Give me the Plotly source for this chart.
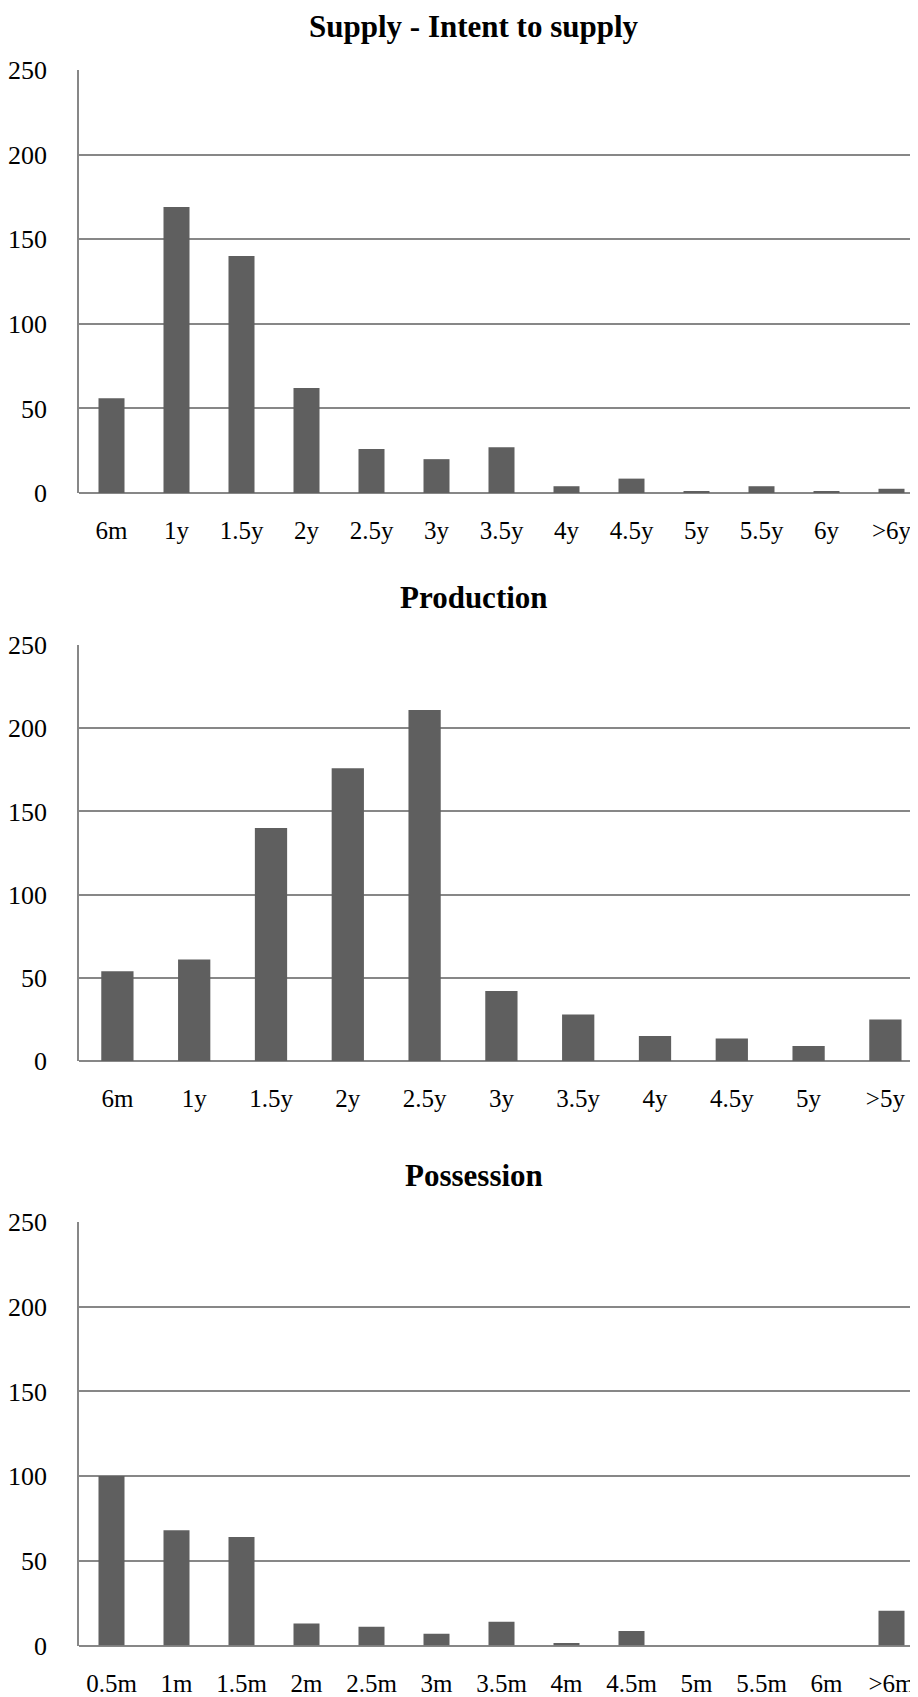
import plotly.graph_objects as go

supply_cats = ["6m", "1y", "1.5y", "2y", "2.5y", "3y", "3.5y", "4y", "4.5y", "5y", "5.5y", "6y", ">6y"]
supply_vals = [56, 169, 140, 62, 26, 20, 27, 4, 8.5, 1, 4, 1, 2.5]

prod_cats = ["6m", "1y", "1.5y", "2y", "2.5y", "3y", "3.5y", "4y", "4.5y", "5y", ">5y"]
prod_vals = [54, 61, 140, 176, 211, 42, 28, 15, 13.5, 9, 25]

poss_cats = ["0.5m", "1m", "1.5m", "2m", "2.5m", "3m", "3.5m", "4m", "4.5m", "5m", "5.5m", "6m", ">6m"]
poss_vals = [100, 68, 64, 13, 11, 7, 14, 1.5, 8.5, 0, 0, 0, 20.5]

titles = ["Supply - Intent to supply", "Production", "Possession"]
y_ticks = [0, 50, 100, 150, 200, 250]

# page body adds an 8px margin, so the figure is 8px smaller in each direction
OFF = 8
W, H = 918 - OFF, 1697 - OFF
BAR = "#5f5f5f"
GRID = "#878787"
FONT = "Liberation Serif"
LEFT = 79 - OFF

# plot area pixel positions on screen (top, bottom) and title centre y
panels = [
    (supply_cats, supply_vals, 70, 493, 26),
    (prod_cats, prod_vals, 645, 1061, 597),
    (poss_cats, poss_vals, 1222, 1645.5, 1175),
]

fig = go.Figure()
for i, (cats, vals, top, bot, ty) in enumerate(panels):
    top, bot, ty = top - OFF, bot - OFF, ty - OFF
    n = "" if i == 0 else str(i + 1)
    fig.add_trace(go.Bar(
        x=list(range(len(cats))), y=vals, marker_color=BAR,
        marker_line_width=0, xaxis="x" + n, yaxis="y" + n,
        width=0.4 if len(cats) == 13 else 0.42, showlegend=False,
        hoverinfo="skip",
    ))
    span = (W - LEFT) / (65.0 if len(cats) == 13 else 76.8)
    fig.update_layout(**{
        "xaxis" + n: dict(
            domain=[LEFT / W, 1], anchor="y" + n,
            range=[-0.5, -0.5 + span], automargin=False,
            tickmode="array", tickvals=list(range(len(cats))), ticktext=cats,
            showgrid=False, zeroline=False, showline=False, ticks="",
            tickfont=dict(family=FONT, size=25, color="#000"),
            ticklabelstandoff=20, fixedrange=True,
        ),
        "yaxis" + n: dict(
            domain=[1 - bot / H, 1 - top / H], anchor="x" + n,
            range=[0, 250], tickvals=y_ticks, automargin=False,
            showgrid=True, gridcolor=GRID, gridwidth=1.5,
            zeroline=True, zerolinecolor=GRID, zerolinewidth=2,
            showline=True, linecolor=GRID, linewidth=1.5,
            ticks="", tickfont=dict(family=FONT, size=26, color="#000"),
            ticklabelstandoff=25, fixedrange=True,
        ),
    })
    fig.add_annotation(
        text="<b>" + titles[i] + "</b>", x=(474 - OFF) / W, y=1 - ty / H,
        xref="paper", yref="paper", xanchor="center", yanchor="middle",
        showarrow=False, font=dict(family=FONT, size=31, color="#000"),
    )

fig.update_layout(
    width=W, height=H, margin=dict(l=0, r=0, t=0, b=0),
    paper_bgcolor="white", plot_bgcolor="white", bargap=0.6,
)

fig.write_html("out.html")
